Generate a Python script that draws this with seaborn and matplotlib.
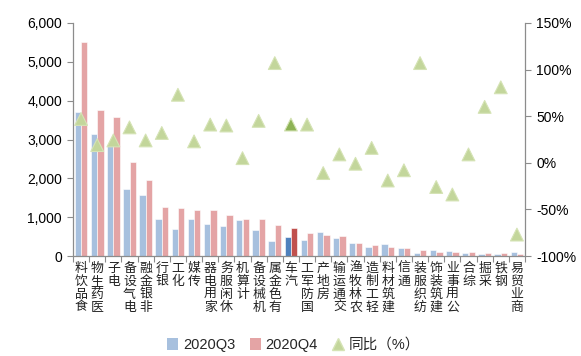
import numpy as np
import pandas as pd
import matplotlib
matplotlib.use("Agg")
import matplotlib.pyplot as plt
import seaborn as sns
from matplotlib.patches import Patch
from matplotlib.lines import Line2D
from matplotlib.ticker import FuncFormatter, FixedLocator

categories = ["食品饮料", "医药生物", "电子", "电气设备", "非银金融", "银行", "化工", "传媒",
              "家用电器", "休闲服务", "计算机", "机械设备", "有色金属", "汽车", "国防军工", "房地产",
              "交通运输", "农林牧渔", "轻工制造", "建筑材料", "通信", "纺织服装", "建筑装饰", "公用事业",
              "综合", "采掘", "钢铁", "商业贸易"]
q3 = [3720, 3140, 2860, 1720, 1560, 960, 700, 960, 830, 770, 930, 670, 390, 500,
      410, 610, 470, 340, 240, 310, 210, 80, 150, 140, 70, 40, 40, 110]
q4 = [5500, 3770, 3590, 2420, 1950, 1260, 1230, 1190, 1190, 1060, 960, 960, 800, 730,
      580, 540, 510, 340, 280, 240, 210, 150, 110, 100, 100, 70, 70, 40]
yoy = [47, 19, 24, 38, 24, 32, 73, 23, 41, 40, 5, 45, 107, 41,
       41, -11, 9, -1, 16, -19, -8, 107, -26, -34, 9, 60, 81, -77]
highlight = "汽车"
series_names = ["2020Q3", "2020Q4"]
legend_yoy = "同比（%）"

c_q3, c_q4 = "#A7C0DE", "#E4A4A5"
c_q3_hl, c_q4_hl = "#4F81BD", "#C0504D"
c_tri, c_tri_edge, c_tri_hl = "#C3D69B", "#D5E3B5", "#8DB255"
axis_col = "#8C8C8C"

sns.set_theme(style="white")
plt.rcParams['font.family'] = ['Liberation Sans', 'Noto Sans CJK SC', 'DejaVu Sans']

n = len(categories)
df = pd.DataFrame({
    "cat": categories * 2,
    "val": q3 + q4,
    "series": [series_names[0]] * n + [series_names[1]] * n,
})

fig = plt.figure(figsize=(5.81, 3.56), dpi=100)
ax = fig.add_axes([73 / 581, 1 - 256 / 356, (525 - 73) / 581, (256 - 23) / 356])

sns.barplot(data=df, x="cat", y="val", hue="series", order=categories,
            hue_order=series_names, palette=[c_q3, c_q4], width=0.78,
            saturation=1, edgecolor="white", linewidth=0.4, ax=ax, legend=False)

hi = categories.index(highlight)
ax.containers[0][hi].set_facecolor(c_q3_hl)
ax.containers[1][hi].set_facecolor(c_q4_hl)

ax.set_xlim(-0.5, n - 0.5)
ax.set_ylim(0, 6000)
ax.set_yticks(np.arange(0, 6001, 1000))
ax.yaxis.set_major_formatter(FuncFormatter(lambda v, p: f"{int(v):,}"))
ax.set_xlabel("")
ax.set_ylabel("")
ax.set_xticks([])
ax.xaxis.set_minor_locator(FixedLocator(np.arange(-0.5, n, 1.0)))
ax.tick_params(axis="x", which="minor", bottom=True, length=4, width=0.8, color=axis_col)
ax.tick_params(axis="y", left=True, length=4, width=0.8, color=axis_col,
               labelsize=10, labelcolor="black", pad=4)

for sp in ["top", "right"]:
    ax.spines[sp].set_visible(False)
for sp in ["left", "bottom"]:
    ax.spines[sp].set_color(axis_col)
    ax.spines[sp].set_linewidth(0.9)

ax2 = ax.twinx()
sdf = pd.DataFrame({"x": np.arange(n), "yoy": np.array(yoy) / 100.0,
                    "hl": ["y" if c == highlight else "n" for c in categories]})
sns.scatterplot(data=sdf, x="x", y="yoy", hue="hl", palette={"n": c_tri, "y": c_tri_hl},
                marker="^", s=85, edgecolor=c_tri_edge, linewidth=0.8, ax=ax2,
                legend=False, zorder=5)
ax2.set_ylim(-1.0, 1.5)
ax2.set_yticks(np.arange(-1.0, 1.51, 0.5))
ax2.yaxis.set_major_formatter(FuncFormatter(lambda v, p: f"{v * 100:.0f}%"))
ax2.set_xlim(-0.5, n - 0.5)
ax2.set_xlabel("")
ax2.set_ylabel("")
ax2.tick_params(axis="y", right=True, length=4, width=0.8, color=axis_col,
                labelsize=10, labelcolor="black", pad=4)
for sp in ["top", "left", "bottom"]:
    ax2.spines[sp].set_visible(False)
ax2.spines["right"].set_color(axis_col)
ax2.spines["right"].set_linewidth(0.9)

for i, c in enumerate(categories):
    ax.annotate("\n".join(reversed(c)), xy=(i, 0), xycoords=("data", "axes fraction"),
                xytext=(0, -4), textcoords="offset points", ha="center", va="top",
                fontsize=9.3, linespacing=1.0, family=["Noto Sans CJK SC", "DejaVu Sans"],
                color="#222222", annotation_clip=False)

handles = [Patch(facecolor=c_q3, edgecolor="none"),
           Patch(facecolor=c_q4, edgecolor="none"),
           Line2D([], [], marker="^", linestyle="none", markersize=9,
                  markerfacecolor=c_tri, markeredgecolor=c_tri_edge)]
fig.legend(handles, series_names + [legend_yoy], loc="center", bbox_to_anchor=(0.505, 1 - 345 / 356),
           ncol=3, frameon=False, handlelength=0.8, handleheight=0.8,
           handletextpad=0.3, columnspacing=1.0,
           prop={"family": ["Liberation Sans", "Noto Sans CJK SC"], "size": 10.5})

fig.savefig("out.png", dpi=100)
